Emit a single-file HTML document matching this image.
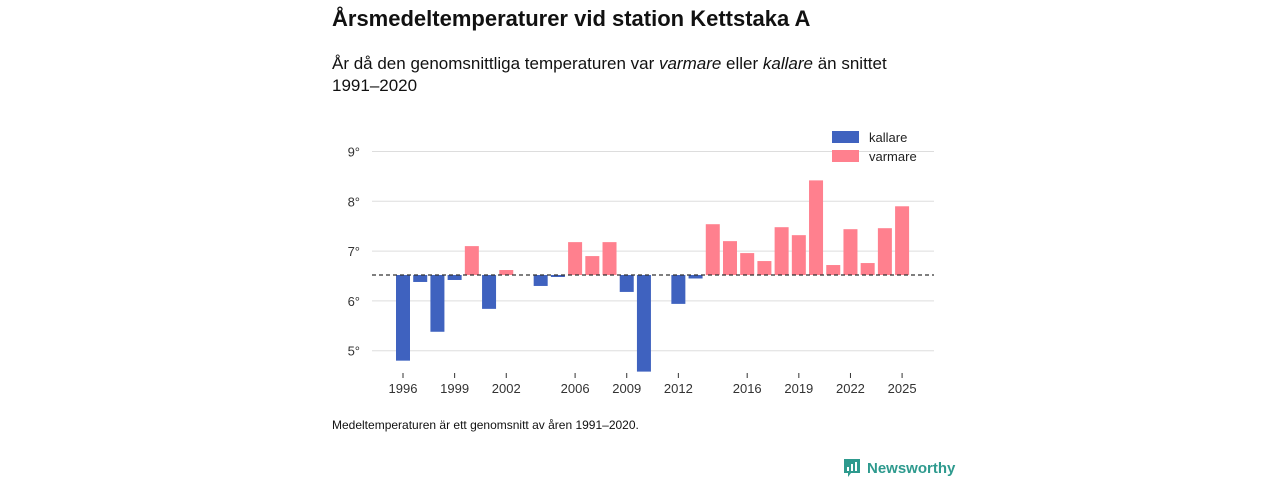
<!DOCTYPE html>
<html><head><meta charset="utf-8"><style>
body{margin:0;width:1280px;height:480px;background:#fff;font-family:"Liberation Sans","DejaVu Sans",sans-serif;position:relative;overflow:hidden;color:#111}
.t{position:absolute;left:332px;top:6px;font-size:22px;font-weight:bold}
.s{position:absolute;left:332px;top:53px;font-size:17px;line-height:22px;width:600px}
.f{position:absolute;left:332px;top:418px;font-size:12px}
.logo{position:absolute;left:843px;top:458px;display:flex;align-items:center;color:#2e9a8e;font-size:15px;font-weight:bold}
svg{position:absolute;left:0;top:0}
</style></head><body>
<div class="t">Årsmedeltemperaturer vid station Kettstaka A</div>
<div class="s">År då den genomsnittliga temperaturen var <i>varmare</i> eller <i>kallare</i> än snittet 1991–2020</div>
<svg id="c" width="1280" height="480"></svg>
<div class="f">Medeltemperaturen är ett genomsnitt av åren 1991–2020.</div>
<div class="logo"><svg width="18" height="20" style="position:static;margin-right:6px"><path d="M1 1h16v14h-9l-3 4v-4h-4z" fill="#2e9a8e"/><rect x="4" y="9" width="2" height="4" fill="#fff"/><rect x="8" y="6" width="2" height="7" fill="#fff"/><rect x="12" y="4" width="2" height="9" fill="#fff"/></svg>Newsworthy</div>
<script>
const years=[1996,1997,1998,1999,2000,2001,2002,2003,2004,2005,2006,2007,2008,2009,2010,2011,2012,2013,2014,2015,2016,2017,2018,2019,2020,2021,2022,2023,2024,2025];
const temps=[4.8,6.38,5.38,6.42,7.1,5.84,6.62,null,6.3,6.48,7.18,6.9,7.18,6.18,4.58,null,5.94,6.45,7.54,7.2,6.96,6.8,7.48,7.32,8.42,6.72,7.44,6.76,7.46,7.9];
const baseline=6.52;
const yTicks=[5,6,7,8,9];
const xTicks=[1996,1999,2002,2006,2009,2012,2016,2019,2022,2025];
const svg=document.getElementById('c');const NS='http://www.w3.org/2000/svg';
const x=v=>403+(v-1996)*17.21, y=v=>275-(v-baseline)*49.8;
function mk(t,a){const e=document.createElementNS(NS,t);for(const k in a)e.setAttribute(k,a[k]);svg.appendChild(e);return e;}
yTicks.forEach(v=>{const l=mk('line',{x1:372,x2:934,y1:y(v),y2:y(v),stroke:'#ddd'});


const t=mk('text',{x:360,y:y(v)+5,'text-anchor':'end','font-size':13,fill:'#333'});t.textContent=v+'°';

});
years.forEach((yr,i)=>{const v=temps[i];if(v==null)return;const y0=y(baseline),y1=y(v);
const r=mk('rect',{x:x(yr)-7,y:Math.min(y0,y1),width:14,height:Math.abs(y1-y0),fill:v<baseline?'#3f62bf':'#ff808e'});

});
const bl=mk('line',{x1:372,x2:934,y1:y(baseline),y2:y(baseline),stroke:'#333','stroke-dasharray':'4,3','stroke-width':1.3});


xTicks.forEach(v=>{const k=mk('line',{x1:x(v),x2:x(v),y1:373,y2:378,stroke:'#333'});


const t=mk('text',{x:x(v),y:393,'text-anchor':'middle','font-size':13,fill:'#333'});t.textContent=v;

});
[['kallare','#3f62bf',137],['varmare','#ff808e',156]].forEach(d=>{const r=mk('rect',{x:832,y:d[2]-6,width:27,height:12,fill:d[1]});


const t=mk('text',{x:869,y:d[2]+5,'font-size':13,fill:'#222'});t.textContent=d[0];

});
</script>
</body></html>
